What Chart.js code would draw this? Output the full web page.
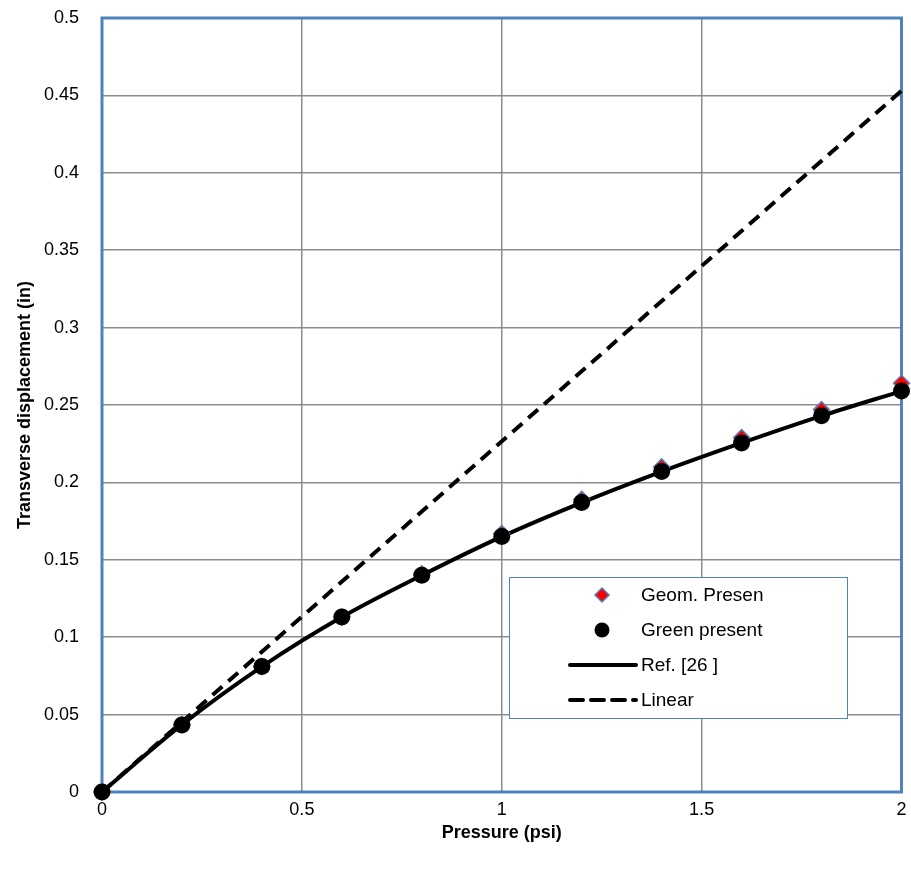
<!DOCTYPE html>
<html>
<head>
<meta charset="utf-8">
<script src="https://cdn.jsdelivr.net/npm/chart.js@4/dist/chart.umd.min.js"></script>
<style>
html,body{margin:0;padding:0;background:#fff;}
#wrap{width:911px;height:879px;position:relative;}
</style>
</head>
<body>
<div id="wrap"><canvas id="c" width="911" height="879"></canvas></div>
<script>
const pressure = [0, 0.2, 0.4, 0.6, 0.8, 1.0, 1.2, 1.4, 1.6, 1.8, 2.0];
const geomPresent = [0, 0.0435, 0.081, 0.113, 0.141, 0.167, 0.189, 0.210, 0.229, 0.247, 0.264];
const greenPresent = [0, 0.0433, 0.081, 0.113, 0.140, 0.165, 0.187, 0.207, 0.2255, 0.243, 0.259];
const refX = [0, 0.2, 0.4, 0.6, 0.8, 1.0, 1.2, 1.4, 1.6, 1.8, 2.0];
const refY = [0, 0.0435, 0.081, 0.113, 0.140, 0.165, 0.187, 0.207, 0.2255, 0.243, 0.259];
const linearX = [0, 2.0];
const linearY = [0, 0.453];
const xTicks = [0, 0.5, 1, 1.5, 2];
const yTicks = [0, 0.05, 0.1, 0.15, 0.2, 0.25, 0.3, 0.35, 0.4, 0.45, 0.5];
const labels = ['Geom. Presen', 'Green present', 'Ref. [26 ]', 'Linear'];

const FONT = "'Liberation Sans Narrow', 'Liberation Sans', Arial, sans-serif";
const pts = (xs, ys) => xs.map((x, i) => ({x: x, y: ys[i]}));

const frame = {
  id: 'frame',
  beforeDatasetsDraw(chart) {
    const {ctx, chartArea: a} = chart;
    ctx.save();
    ctx.strokeStyle = '#4F81BD';
    ctx.lineWidth = 3;
    ctx.strokeRect(a.left, a.top, a.right - a.left, a.bottom - a.top);
    ctx.restore();
  }
};

const legendBox = {
  id: 'legendBox',
  afterDraw(chart) {
    const ctx = chart.ctx;
    const L = 509, T = 577, W = 338, H = 141;
    ctx.save();
    ctx.fillStyle = '#fff';
    ctx.fillRect(L, T, W, H);
    ctx.strokeStyle = '#4F81BD';
    ctx.lineWidth = 1;
    ctx.strokeRect(L + 0.5, T + 0.5, W, H);
    const rows = [595, 630, 665, 700];
    const mx = 602;
    ctx.font = "19px " + FONT;
    ctx.textBaseline = 'middle';
    ctx.textAlign = 'left';
    chart.data.datasets.forEach((ds, i) => {
      const y = rows[i];
      if (ds.showLine === false) {
        if (ds.pointStyle === 'rectRot') {
          const r = 7;
          ctx.beginPath();
          ctx.moveTo(mx, y - r); ctx.lineTo(mx + r, y); ctx.lineTo(mx, y + r); ctx.lineTo(mx - r, y); ctx.closePath();
          ctx.fillStyle = ds.pointBackgroundColor; ctx.fill();
          ctx.strokeStyle = ds.pointBorderColor; ctx.lineWidth = 1.5; ctx.stroke();
        } else {
          ctx.beginPath();
          ctx.arc(mx, y, 7.5, 0, Math.PI * 2);
          ctx.fillStyle = ds.pointBackgroundColor; ctx.fill();
        }
      } else {
        ctx.beginPath();
        ctx.setLineDash(ds.borderDash || []);
        ctx.lineCap = 'round';
        ctx.strokeStyle = ds.borderColor;
        ctx.lineWidth = 4;
        ctx.moveTo(570, y); ctx.lineTo(636, y);
        ctx.stroke();
        ctx.setLineDash([]);
      }
      ctx.fillStyle = '#000';
      ctx.fillText(ds.label, 641, y + 1);
    });
    ctx.restore();
  }
};

new Chart(document.getElementById('c'), {
  type: 'scatter',
  data: {
    datasets: [
      {
        label: labels[0], data: pts(pressure, geomPresent), showLine: false,
        pointStyle: 'rectRot', pointRadius: 8, pointBackgroundColor: '#FF0000',
        pointBorderColor: '#4F81BD', pointBorderWidth: 1.5, order: 1, clip: false
      },
      {
        label: labels[1], data: pts(pressure, greenPresent), showLine: false,
        pointStyle: 'circle', pointRadius: 8.5, pointBackgroundColor: '#000',
        pointBorderColor: '#000', pointBorderWidth: 0, order: 0, clip: false
      },
      {
        label: labels[2], data: pts(refX, refY), showLine: true,
        borderColor: '#000', borderWidth: 4, pointRadius: 0, tension: 0.35,
        cubicInterpolationMode: 'monotone', order: 2, clip: false
      },
      {
        label: labels[3], data: pts(linearX, linearY), showLine: true,
        borderColor: '#000', borderWidth: 4, borderDash: [13, 8], pointRadius: 0,
        order: 3, clip: false
      }
    ]
  },
  options: {
    responsive: false,
    animation: false,
    devicePixelRatio: 1,
    layout: {padding: {left: 0, top: 18, right: 8, bottom: 30}},
    plugins: {legend: {display: false}, tooltip: {enabled: false}},
    scales: {
      x: {
        type: 'linear', min: 0, max: 2,
        afterBuildTicks: s => { s.ticks = xTicks.map(v => ({value: v})); },
        afterFit: s => { s.height = 57; s.paddingLeft = 0; s.paddingRight = 0; },
        grid: {color: '#8C8C8C', lineWidth: 1.5, drawTicks: false},
        border: {display: false},
        ticks: {padding: 7, color: '#000', font: {family: FONT, size: 18}, maxRotation: 0,
          callback: v => String(Number(v.toFixed(2)))},
        title: {display: true, text: 'Pressure (psi)', color: '#000',
          font: {family: FONT, size: 18, weight: 'bold'}, padding: {top: 4, bottom: 5}}
      },
      y: {
        type: 'linear', min: 0, max: 0.5,
        afterBuildTicks: s => { s.ticks = yTicks.map(v => ({value: v})); },
        afterFit: s => { s.width = 102; s.paddingTop = 0; s.paddingBottom = 0; },
        grid: {color: '#8C8C8C', lineWidth: 1.5, drawTicks: false},
        border: {display: false},
        ticks: {padding: 23, color: '#000', font: {family: FONT, size: 18},
          callback: v => String(Number(v.toFixed(2)))},
        title: {display: true, text: 'Transverse displacement (in)', color: '#000',
          font: {family: FONT, size: 18, weight: 'bold'}, padding: {top: 14, bottom: 0}}
      }
    }
  },
  plugins: [frame, legendBox]
});
</script>
</body>
</html>
